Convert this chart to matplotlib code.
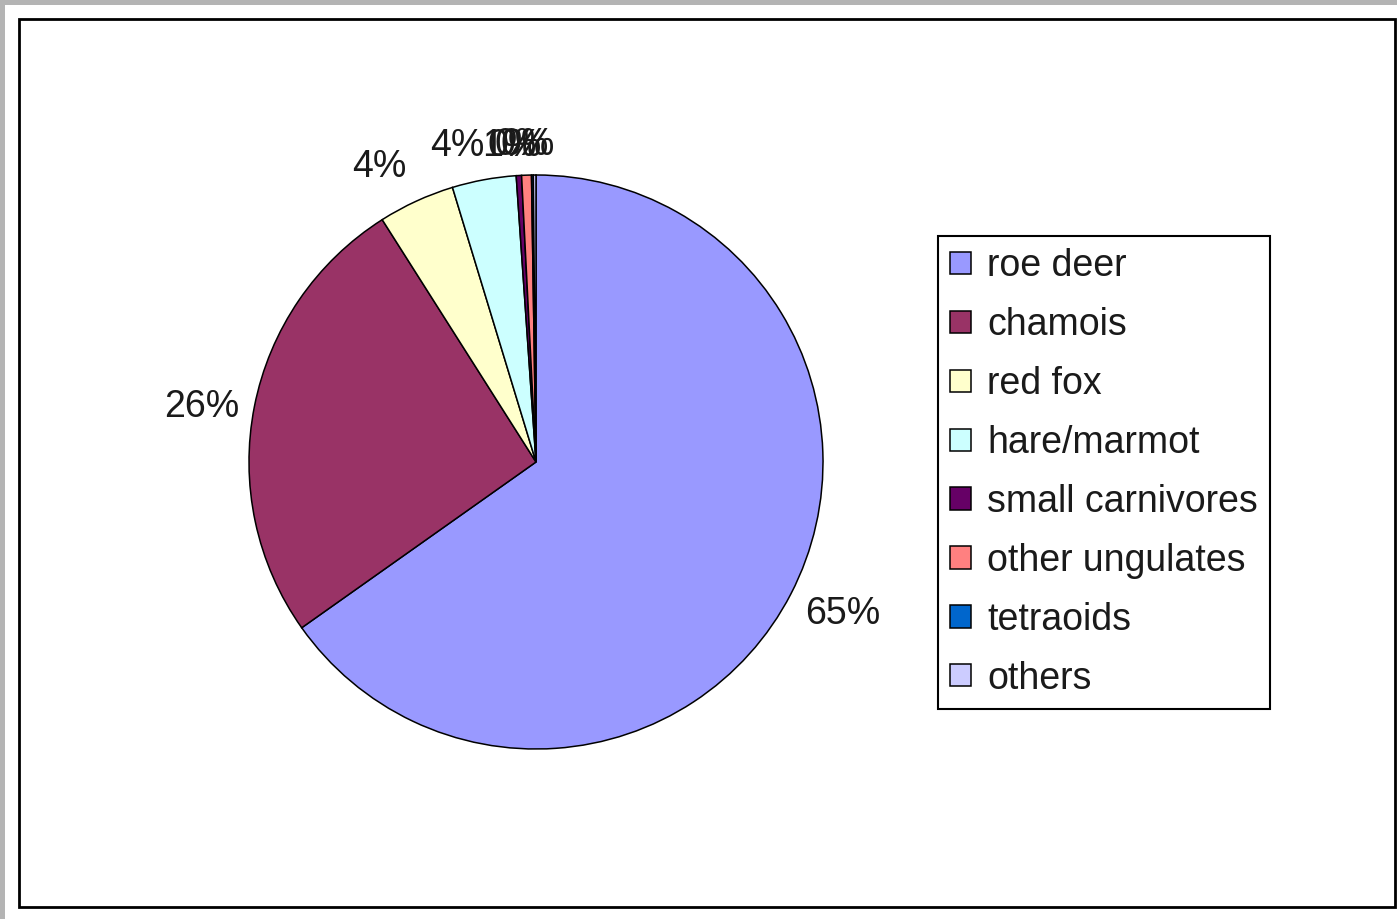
import matplotlib
matplotlib.use("Agg")
import matplotlib.pyplot as plt
from matplotlib.patches import Rectangle
import numpy as np

categories = ["roe deer", "chamois", "red fox", "hare/marmot",
              "small carnivores", "other ungulates", "tetraoids", "others"]
values = [65.2, 25.8, 4.3, 3.6, 0.3, 0.55, 0.1, 0.15]
colors = ["#9999FF", "#993366", "#FFFFCC", "#CCFFFF",
          "#660066", "#FF8080", "#0066CC", "#CCCCFF"]

# label placement (layout only): radial distance and angular nudge (degrees)
label_dist = [1.19, 1.181, 1.174, 1.145, 1.115, 1.115, 1.115, 1.115]
label_nudge = [1.4, 1.35, 3.1, 3.5, 0.4, 2.9, 1.8, 1.3]

W, H = 1397, 919
fig = plt.figure(figsize=(W / 100, H / 100), dpi=100)
fig.patch.set_facecolor("white")

# outer gray border (top and left)
fig.patches.append(Rectangle((0, 1 - 5 / H), 1, 5 / H, transform=fig.transFigure,
                             facecolor="#b4b4b4", edgecolor="none", zorder=0))
fig.patches.append(Rectangle((0, 0), 5 / W, 1, transform=fig.transFigure,
                             facecolor="#b4b4b4", edgecolor="none", zorder=0))
# chart frame
fig.patches.append(Rectangle((19 / W, 1 - 907 / H), (1395 - 19) / W, (907 - 19) / H,
                             transform=fig.transFigure, facecolor="none",
                             edgecolor="black", linewidth=2, zorder=1))

cx, cy, r = 536, 462, 287
ax = fig.add_axes([(cx - r) / W, 1 - (cy + r) / H, 2 * r / W, 2 * r / H])

font = "Liberation Sans"
wedges, texts, autotexts = ax.pie(
    values, colors=colors, startangle=90, counterclock=False,
    autopct=lambda p: f"{p:.0f}%", pctdistance=1.18,
    wedgeprops=dict(edgecolor="black", linewidth=1.1),
    textprops=dict(fontsize=27, family=font, color="#1a1a1a"),
)
for w, t, d, n in zip(wedges, autotexts, label_dist, label_nudge):
    ang = np.deg2rad((w.theta1 + w.theta2) / 2 + n)
    t.set_position((d * np.cos(ang), d * np.sin(ang) - 0.01))

ax.set_xlim(-1, 1)
ax.set_ylim(-1, 1)
ax.set_aspect("equal")
ax.axis("off")

leg = fig.legend(wedges, categories, loc="upper left",
                 bbox_to_anchor=(938 / W, 1 - 236 / H), borderaxespad=0,
                 prop=dict(family=font, size=27), fancybox=False,
                 edgecolor="black", framealpha=1, handlelength=0.54,
                 handleheight=0.54, handletextpad=0.44, labelspacing=0.61,
                 borderpad=0.33)
leg.get_frame().set_linewidth(1.5)
for t in leg.get_texts():
    t.set_color("#1a1a1a")

fig.savefig("out.png", dpi=100)
